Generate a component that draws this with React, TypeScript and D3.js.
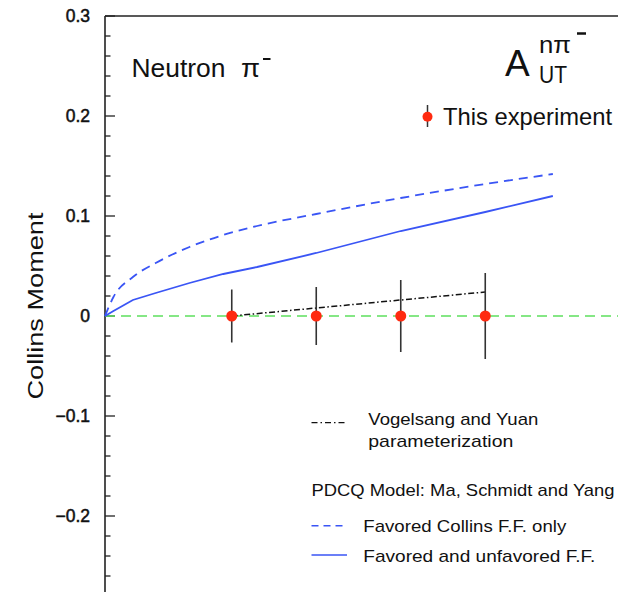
import React from "react";
import * as d3 from "d3";

// ---- data ----
const expX = [0.15, 0.25, 0.35, 0.45];
const expY = [0, 0, 0, 0];
const expErr = [0.0265, 0.029, 0.036, 0.043];

const vyX = [0.15, 0.25, 0.35, 0.45];
const vyY = [0, 0.008, 0.016, 0.024];

const modelX = [0, 0.01, 0.033, 0.06, 0.1, 0.14, 0.18, 0.25, 0.35, 0.45, 0.53];
const favoredOnly = [0, 0.019, 0.039, 0.053, 0.069, 0.081, 0.09, 0.102, 0.118, 0.132, 0.142];
const favUnfav = [0, 0.005, 0.016, 0.023, 0.033, 0.042, 0.049, 0.063, 0.085, 0.104, 0.12];

const yMajorTicks = [0.3, 0.2, 0.1, 0, -0.1, -0.2];
const yTickLabels = ["0.3", "0.2", "0.1", "0", "\u22120.1", "\u22120.2"];

const W = 618;
const H = 603;
const FONT = "'Liberation Sans', Arial, sans-serif";

export default function App() {
  const x = d3.scaleLinear().domain([0, 0.6]).range([105, 612]);
  const y = d3.scaleLinear().domain([-0.276, 0.3]).range([592, 16]);

  const minorTicks = d3.range(-0.26, 0.3001, 0.02).map((v) => Math.round(v * 100) / 100);

  const line = d3
    .line<[number, number]>()
    .x((d) => x(d[0]))
    .y((d) => y(d[1]));
  const smooth = d3
    .line<[number, number]>()
    .x((d) => x(d[0]))
    .y((d) => y(d[1]))
    .curve(d3.curveMonotoneX);

  const dashedPts = modelX.map((v, i) => [v, favoredOnly[i]] as [number, number]);
  const solidPts = modelX.map((v, i) => [v, favUnfav[i]] as [number, number]);
  const vyPts = vyX.map((v, i) => [v, vyY[i]] as [number, number]);

  const blue = "#3a55f5";
  const axisCol = "#222";

  return (
    <svg
      width={W}
      height={H}
      style={{ position: "absolute", left: 0, top: 0, background: "#fff" }}
      fontFamily={FONT}
    >
      <rect x={0} y={0} width={W} height={H} fill="#fff" />
      {/* frame */}
      <line x1={x(0)} x2={W} y1={y(0.3)} y2={y(0.3)} stroke={axisCol} strokeWidth={1.6} />
      <line x1={x(0)} x2={x(0)} y1={y(0.3)} y2={592} stroke={axisCol} strokeWidth={1.6} />
      {minorTicks.map((v) => {
        const major = yMajorTicks.some((m) => Math.abs(m - v) < 1e-6);
        return (
          <line
            key={v}
            x1={x(0)}
            x2={x(0) + (major ? 10 : 5.5)}
            y1={y(v)}
            y2={y(v)}
            stroke={axisCol}
            strokeWidth={1.3}
          />
        );
      })}
      {yMajorTicks.map((v, i) => (
        <text
          key={v}
          x={90}
          y={y(v) + 6}
          textAnchor="end"
          fontSize={17.5}
          fill="#111"
          stroke="#111"
          strokeWidth={0.5}
        >
          {yTickLabels[i]}
        </text>
      ))}

      {/* y axis label */}
      <text
        transform={`translate(43,306) rotate(-90)`}
        textAnchor="middle"
        fontSize={22}
        fill="#111"
        textLength={187}
        lengthAdjust="spacingAndGlyphs"
      >
        Collins Moment
      </text>

      {/* zero line */}
      <line
        x1={x(0)}
        x2={W}
        y1={y(0)}
        y2={y(0)}
        stroke="#5ee05e"
        strokeWidth={1.6}
        strokeDasharray="10,6"
      />

      {/* model curves */}
      <path d={smooth(dashedPts) || ""} fill="none" stroke={blue} strokeWidth={1.8} strokeDasharray="9,6" />
      <path d={line(solidPts) || ""} fill="none" stroke={blue} strokeWidth={1.8} />
      <path d={line(vyPts) || ""} fill="none" stroke="#111" strokeWidth={1.5} strokeDasharray="6,2.5,1.5,2.5" />

      {/* experiment */}
      {expX.map((v, i) => (
        <g key={v}>
          <line
            x1={x(v)}
            x2={x(v)}
            y1={y(expY[i] + expErr[i])}
            y2={y(expY[i] - expErr[i])}
            stroke="#333"
            strokeWidth={1.6}
          />
          <circle cx={x(v)} cy={y(expY[i])} r={5.5} fill="#ff2a10" />
        </g>
      ))}

      {/* Neutron pi- */}
      <text x={131.5} y={76.5} fontSize={25} fill="#111" textLength={94} lengthAdjust="spacingAndGlyphs">
        Neutron
      </text>
      <text x={241} y={76.5} fontSize={25} fill="#111" textLength={19} lengthAdjust="spacingAndGlyphs">
        π
      </text>
      <line x1={263} x2={270.5} y1={59} y2={59} stroke="#111" strokeWidth={2} />

      {/* A_UT^{n pi-} */}
      <text x={505} y={76} fontSize={37} fill="#111">
        A
      </text>
      <text x={539} y={53} fontSize={24} fill="#111" textLength={32} lengthAdjust="spacingAndGlyphs">
        nπ
      </text>
      <line x1={577} x2={586} y1={33.5} y2={33.5} stroke="#111" strokeWidth={2.5} />
      <text x={539} y={83} fontSize={23} fill="#111" textLength={28} lengthAdjust="spacingAndGlyphs">
        UT
      </text>

      {/* legend: this experiment */}
      <line x1={427.5} x2={427.5} y1={105} y2={127} stroke="#333" strokeWidth={1.5} />
      <circle cx={427.5} cy={116.7} r={5} fill="#ff2a10" />
      <text x={443} y={124.5} fontSize={24} fill="#111" textLength={169} lengthAdjust="spacingAndGlyphs">
        This experiment
      </text>

      {/* lower legend */}
      <line x1={311.5} x2={347} y1={422.7} y2={422.7} stroke="#111" strokeWidth={1.3} strokeDasharray="6,3,1.5,3" />
      <text x={368.3} y={425} fontSize={17} fill="#111" textLength={170} lengthAdjust="spacingAndGlyphs">
        Vogelsang and Yuan
      </text>
      <text x={368.3} y={446.5} fontSize={17} fill="#111" textLength={145} lengthAdjust="spacingAndGlyphs">
        parameterization
      </text>
      <text x={311.5} y={496} fontSize={17} fill="#111" textLength={303} lengthAdjust="spacingAndGlyphs">
        PDCQ Model: Ma, Schmidt and Yang
      </text>
      <line x1={311.5} x2={347} y1={525.7} y2={525.7} stroke={blue} strokeWidth={1.4} strokeDasharray="7,5" />
      <text x={363.3} y={531.7} fontSize={17} fill="#111" textLength={203} lengthAdjust="spacingAndGlyphs">
        Favored Collins F.F. only
      </text>
      <line x1={311.5} x2={347} y1={555} y2={555} stroke={blue} strokeWidth={1.4} />
      <text x={363.3} y={561.5} fontSize={17} fill="#111" textLength={232} lengthAdjust="spacingAndGlyphs">
        Favored and unfavored F.F.
      </text>
    </svg>
  );
}
